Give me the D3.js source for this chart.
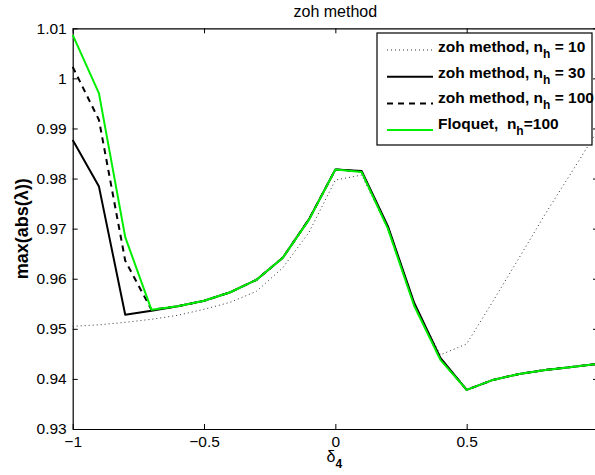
<!DOCTYPE html>
<html>
<head>
<meta charset="utf-8">
<script src="https://cdn.jsdelivr.net/npm/d3@7"></script>
<style>
    body { margin: 0; background: #fff; }
    text { font-family: "Liberation Sans", Arial, Helvetica, sans-serif; fill: #000; }
</style>
</head>
<body>
<div id="chart"></div>
<script>
const delta = [-1, -0.9, -0.8, -0.7, -0.6, -0.5, -0.4, -0.3, -0.2, -0.1, 0, 0.1, 0.2, 0.3, 0.4, 0.5, 0.6, 0.7, 0.8, 0.9, 1]
const zoh10 = [0.9505, 0.9508, 0.9513, 0.9519, 0.9527, 0.9539, 0.9553, 0.9575, 0.9622, 0.9693, 0.9797, 0.9807, 0.9700, 0.9548, 0.9448, 0.9470, 0.9555, 0.9642, 0.9730, 0.9813, 0.9897]
const zoh30 = [0.9877, 0.9784, 0.9528, 0.9536, 0.9545, 0.9556, 0.9573, 0.9598, 0.9642, 0.9719, 0.9818, 0.9815, 0.9705, 0.9552, 0.9442, 0.9378, 0.9398, 0.9410, 0.9418, 0.9424, 0.9430]
const zoh100 = [1.0023, 0.9917, 0.9636, 0.9538, 0.9545, 0.9556, 0.9573, 0.9598, 0.9642, 0.9719, 0.9818, 0.9814, 0.9702, 0.9549, 0.9440, 0.9378, 0.9398, 0.9410, 0.9418, 0.9424, 0.9430]
const floquet = [1.0087, 0.9970, 0.9683, 0.9538, 0.9545, 0.9556, 0.9573, 0.9598, 0.9642, 0.9718, 0.9818, 0.9813, 0.9700, 0.9546, 0.9438, 0.9378, 0.9398, 0.9410, 0.9418, 0.9424, 0.9430]
const xTicks = [-1, -0.5, 0, 0.5, 1]
const xTickLabels = ["\u22121", "\u22120.5", "0", "0.5", ""]
const yTicks = [0.93, 0.94, 0.95, 0.96, 0.97, 0.98, 0.99, 1, 1.01]
const legendNames = ["zoh method, n", "zoh method, n", "zoh method, n", "Floquet,\u00a0 n"]
const legendTails = [" = 10", " = 30", " = 100", "=100"]

const width = 595, height = 475
const plotLeft = 72.7, plotRight = 598, plotTop = 28.3, plotBottom = 429

const x = d3.scaleLinear().domain([-1, 1]).range([plotLeft, plotRight])
const y = d3.scaleLinear().domain([0.93, 1.01]).range([plotBottom, plotTop])

const svg = d3.select("#chart").append("svg")
    .attr("width", width)
    .attr("height", height)

// axes, matlab style: ticks pointing inwards on all four sides
svg.append("g").attr("transform", `translate(0,${plotBottom})`)
    .call(d3.axisBottom(x).tickValues(xTicks).tickSizeInner(-5).tickSizeOuter(0).tickPadding(7)
        .tickFormat((d, i) => xTickLabels[i]))
svg.append("g").attr("transform", `translate(0,${plotTop})`)
    .call(d3.axisTop(x).tickValues(xTicks).tickSizeInner(-5).tickSizeOuter(0).tickFormat(""))
svg.append("g").attr("transform", `translate(${plotLeft},0)`)
    .call(d3.axisLeft(y).tickValues(yTicks).tickSizeInner(-5).tickSizeOuter(0).tickPadding(6)
        .tickFormat(d => String(+d.toFixed(2))))
svg.append("g").attr("transform", `translate(${plotRight},0)`)
    .call(d3.axisRight(y).tickValues(yTicks).tickSizeInner(-5).tickSizeOuter(0).tickFormat(""))

svg.selectAll(".domain").attr("stroke", "#000").attr("stroke-width", 1.2)
svg.selectAll(".tick line").attr("stroke", "#000")
svg.selectAll(".tick text").attr("font-size", 15.5).attr("font-family", "Liberation Sans, Arial, sans-serif")

const line = d3.line().x((d, i) => x(delta[i])).y(d => y(d))

const series = [
    { values: zoh10, color: "#333", width: 1, dash: "1,3" },
    { values: zoh30, color: "#000", width: 2, dash: null },
    { values: zoh100, color: "#000", width: 2, dash: "6,5" },
    { values: floquet, color: "#00ee00", width: 2, dash: null }
]

svg.append("g").selectAll("path").data(series).enter().append("path")
    .attr("d", d => line(d.values))
    .attr("fill", "none")
    .attr("stroke", d => d.color)
    .attr("stroke-width", d => d.width)
    .attr("stroke-dasharray", d => d.dash)
    .attr("stroke-linejoin", "round")

svg.append("text")
    .attr("x", (plotLeft + plotRight) / 2).attr("y", 17)
    .attr("text-anchor", "middle")
    .attr("font-size", 16)
    .text("zoh method")

const xl = svg.append("text")
    .attr("x", x(0) - 1).attr("y", 462)
    .attr("text-anchor", "middle")
    .attr("font-size", 16)
xl.append("tspan").text("\u03b4")
xl.append("tspan").attr("dy", 6).attr("font-size", 12).attr("font-weight", "bold").text("4")

svg.append("text")
    .attr("transform", `translate(28,${(plotTop + plotBottom) / 2}) rotate(-90)`)
    .attr("text-anchor", "middle")
    .attr("font-size", 18)
    .attr("font-weight", "bold")
    .text("max(abs(\u03bb))")

// legend
const lx = 377, ly = 33, lw = 215, lh = 112
const legend = svg.append("g")
legend.append("rect")
    .attr("x", lx).attr("y", ly).attr("width", lw).attr("height", lh)
    .attr("fill", "#fff").attr("stroke", "#000").attr("stroke-width", 1.2)

const rows = legend.selectAll("g").data(series).enter().append("g")

rows.append("line")
    .attr("x1", lx + 10).attr("x2", lx + 56)
    .attr("y1", (d, i) => ly + 17 + i * 26.7)
    .attr("y2", (d, i) => ly + 17 + i * 26.7)
    .attr("stroke", d => d.color)
    .attr("stroke-width", d => d.width)
    .attr("stroke-dasharray", d => d.dash)

const lt = rows.append("text")
    .attr("x", lx + 61).attr("y", (d, i) => ly + 19 + i * 25.5)
    .attr("font-size", 15.5)
    .attr("font-weight", "bold")
lt.append("tspan").text((d, i) => legendNames[i])
lt.append("tspan").attr("dy", 6).attr("font-size", 12).text("h")
lt.append("tspan").attr("dy", -6).text((d, i) => legendTails[i])
</script>
</body>
</html>
